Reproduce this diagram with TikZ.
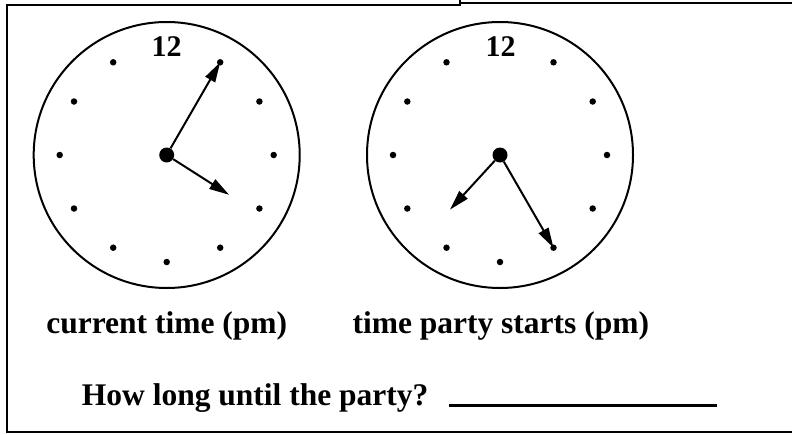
\documentclass[tikz,border=0pt]{standalone}
\usepackage{fontspec}
\setmainfont{Liberation Serif}
\usepackage{tikz}
\usetikzlibrary{arrows.meta, positioning}

\begin{document}
\begin{tikzpicture}[
  x=1pt, y=-1pt,
  face/.style={draw, circle, line width=2pt, minimum size=266pt, inner sep=0pt},
  hub/.style={circle, fill=black, minimum size=15pt, inner sep=0pt},
  hdot/.style={circle, fill=black, minimum size=6.5pt, inner sep=0pt},
  twelve/.style={font=\fontsize{30}{34}\selectfont\bfseries},
  caption/.style={anchor=base, font=\fontsize{31.5}{36}\selectfont\bfseries},
  hand/.style={line width=2pt, -{Triangle[length=20pt, width=11pt]}},
  frame/.style={line width=2pt},
  blank/.style={line width=2.5pt}
]
\useasboundingbox (0,0) rectangle (792,434);
\draw[frame] (792,432) -- (6.5,432) -- (6.5,4.5) -- (460,4.5) -- (460,0);
\draw[frame] (460,3) -- (792,3);
\node[face] (fa) at (166.7,155) {};
\node[twelve] (ta) at (166.7,47) {12};
\node[hdot] (a1) at (220.2,62.3) {};
\node[hdot] (a2) at (259.4,101.5) {};
\node[hdot] (a3) at (273.7,155) {};
\node[hdot] (a4) at (259.4,208.5) {};
\node[hdot] (a5) at (220.2,247.7) {};
\node[hdot] (a6) at (166.7,262) {};
\node[hdot] (a7) at (113.2,247.7) {};
\node[hdot] (a8) at (74.0,208.5) {};
\node[hdot] (a9) at (59.7,155) {};
\node[hdot] (a10) at (74.0,101.5) {};
\node[hdot] (a11) at (113.2,62.3) {};
\node[hub] (ca) at (166.7,155) {};
\coordinate (ha) at (229.1,194.8);
\draw[hand] (ca) -- (a1.center);
\draw[hand] (ca) -- (ha);
\node[face] (fb) at (500,155) {};
\node[twelve] (tb) at (500.5,47) {12};
\node[hdot] (b1) at (553.5,62.3) {};
\node[hdot] (b2) at (592.7,101.5) {};
\node[hdot] (b3) at (607,155) {};
\node[hdot] (b4) at (592.7,208.5) {};
\node[hdot] (b5) at (553.5,247.7) {};
\node[hdot] (b6) at (500,262) {};
\node[hdot] (b7) at (446.5,247.7) {};
\node[hdot] (b8) at (407.3,208.5) {};
\node[hdot] (b9) at (393,155) {};
\node[hdot] (b10) at (407.3,101.5) {};
\node[hdot] (b11) at (446.5,62.3) {};
\node[hub] (cb) at (500,155) {};
\coordinate (hb) at (450,209.6);
\draw[hand] (cb) -- (b5.center);
\draw[hand] (cb) -- (hb);
\node[caption] (la) at (166.7,333) {current time (pm)};
\node[caption] (lb) at (500.8,333) {time party starts (pm)};
\node[caption, anchor=base west, inner sep=0pt] (ask) at (81.7,405) {How long until the party?};
\coordinate (blankL) at (449,405.7);
\coordinate (blankR) at (716.7,405.7);
\draw[blank] (blankL) -- (blankR);
\end{tikzpicture}
\end{document}
